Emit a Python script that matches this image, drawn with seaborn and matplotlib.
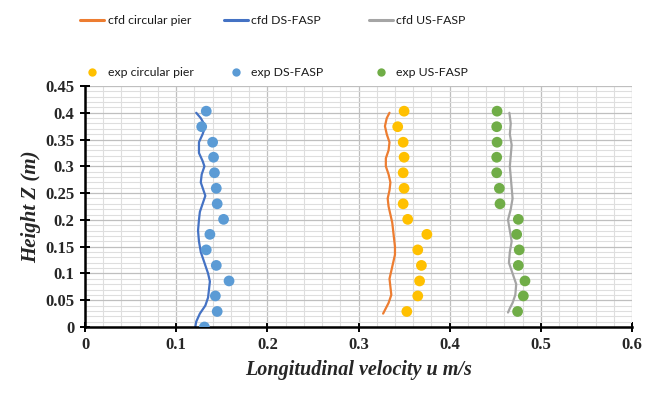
import numpy as np
import pandas as pd
import matplotlib
matplotlib.use("Agg")
import matplotlib.pyplot as plt
from matplotlib.ticker import MultipleLocator
from matplotlib.lines import Line2D
import seaborn as sns

# ---- measured (experimental) velocity profiles ----
z_exp_ds = [0.0, 0.029, 0.058, 0.086, 0.115, 0.144, 0.173, 0.201, 0.230, 0.259,
            0.288, 0.317, 0.345, 0.374, 0.403]
u_exp_ds = [0.131, 0.145, 0.143, 0.158, 0.144, 0.133, 0.137, 0.152, 0.145, 0.144,
            0.142, 0.141, 0.140, 0.128, 0.133]

z_exp = [0.029, 0.058, 0.086, 0.115, 0.144, 0.173, 0.201, 0.230, 0.259,
         0.288, 0.317, 0.345, 0.374, 0.403]
u_exp_circ = [0.353, 0.365, 0.367, 0.369, 0.365, 0.375, 0.354, 0.349, 0.350,
              0.349, 0.350, 0.349, 0.343, 0.350]
u_exp_us = [0.4745, 0.4808, 0.4826, 0.4753, 0.4763, 0.4735, 0.4753, 0.4552, 0.4545,
            0.4516, 0.4516, 0.4520, 0.4516, 0.4520]

# ---- CFD velocity profiles ----
z_cfd_ds = [0.0, 0.01, 0.025, 0.04, 0.055, 0.07, 0.085, 0.10, 0.12, 0.14, 0.16, 0.18,
            0.20, 0.215, 0.23, 0.245, 0.255, 0.27, 0.285, 0.30, 0.31, 0.325, 0.345,
            0.36, 0.375, 0.39, 0.40]
u_cfd_ds = [0.121, 0.122, 0.126, 0.132, 0.135, 0.136, 0.137, 0.135, 0.131, 0.127,
            0.125, 0.124, 0.125, 0.126, 0.129, 0.132, 0.130, 0.127, 0.128, 0.131,
            0.129, 0.125, 0.125, 0.129, 0.132, 0.127, 0.122]

z_cfd_circ = [0.025, 0.035, 0.045, 0.06, 0.075, 0.09, 0.105, 0.12, 0.135, 0.15, 0.165,
              0.18, 0.195, 0.21, 0.225, 0.24, 0.255, 0.27, 0.285, 0.30, 0.315, 0.33,
              0.345, 0.36, 0.375, 0.39, 0.40]
u_cfd_circ = [0.327, 0.330, 0.333, 0.336, 0.335, 0.334, 0.336, 0.338, 0.340, 0.340,
              0.339, 0.338, 0.337, 0.335, 0.333, 0.332, 0.334, 0.335, 0.333, 0.330,
              0.330, 0.333, 0.334, 0.331, 0.329, 0.331, 0.334]

z_cfd_us = [0.027, 0.035, 0.045, 0.06, 0.08, 0.10, 0.12, 0.14, 0.16, 0.18, 0.20, 0.22,
            0.24, 0.26, 0.28, 0.30, 0.32, 0.34, 0.36, 0.38, 0.40]
u_cfd_us = [0.464, 0.466, 0.469, 0.472, 0.473, 0.469, 0.465, 0.466, 0.468, 0.466,
            0.464, 0.467, 0.469, 0.468, 0.467, 0.466, 0.467, 0.468, 0.466, 0.467, 0.4655]

x_ticks = ["0", "0.1", "0.2", "0.3", "0.4", "0.5", "0.6"]
y_ticks = ["0", "0.05", "0.1", "0.15", "0.2", "0.25", "0.3", "0.35", "0.4", "0.45"]

labels_cfd = ["cfd circular pier", "cfd DS-FASP", "cfd US-FASP"]
labels_exp = ["exp circular pier", "exp DS-FASP", "exp US-FASP"]

c_line = ["#ED7D31", "#4472C4", "#A5A5A5"]
c_dot = ["#FFC000", "#5B9BD5", "#70AD47"]

sns.set_theme(style="white")

W, H = 664, 394
fig = plt.figure(figsize=(W / 100, H / 100), dpi=100)
ax = fig.add_axes([85 / W, 1 - 327 / H, 547 / W, 241 / H])

# grid
ax.xaxis.set_major_locator(MultipleLocator(0.1))
ax.xaxis.set_minor_locator(MultipleLocator(0.02))
ax.yaxis.set_major_locator(MultipleLocator(0.05))
ax.yaxis.set_minor_locator(MultipleLocator(0.01))
ax.grid(which="major", color="#BFBFBF", linewidth=0.9)
ax.grid(which="minor", color="#DEDEDE", linewidth=0.8)
ax.set_axisbelow(True)

cfd = [(u_cfd_circ, z_cfd_circ), (u_cfd_ds, z_cfd_ds), (u_cfd_us, z_cfd_us)]
for (u, z), col in zip(cfd, c_line):
    df = pd.DataFrame({"u": u, "z": z})
    sns.lineplot(data=df, x="u", y="z", sort=False, estimator=None, color=col,
                 linewidth=1.6, ax=ax)

exp = [(u_exp_circ, z_exp), (u_exp_ds, z_exp_ds), (u_exp_us, z_exp)]
for (u, z), col in zip(exp, c_dot):
    df = pd.DataFrame({"u": u, "z": z})
    sns.scatterplot(data=df, x="u", y="z", color=col, s=60, edgecolor="none",
                    ax=ax, zorder=4)

ax.set_xlim(0, 0.6)
ax.set_ylim(0, 0.45)
ax.set_xticks(np.arange(len(x_ticks)) * 0.1)
ax.set_xticklabels(x_ticks)
ax.set_yticks(np.arange(len(y_ticks)) * 0.05)
ax.set_yticklabels(y_ticks)

for s in ["top", "right"]:
    ax.spines[s].set_visible(False)
for s in ["left", "bottom"]:
    ax.spines[s].set_color("black")
    ax.spines[s].set_linewidth(1.8)
ax.tick_params(which="major", direction="inout", length=7, width=1.4,
               left=True, bottom=True, color="black", pad=4)
ax.tick_params(which="minor", length=0)
for lab in ax.get_xticklabels() + ax.get_yticklabels():
    lab.set_fontfamily("Liberation Serif")
    lab.set_fontweight("bold")
    lab.set_fontsize(12)

ax.set_xlabel("Longitudinal velocity u m/s", fontfamily="Liberation Serif",
              fontweight="bold", fontstyle="italic", fontsize=14.5, labelpad=5)
ax.set_ylabel("Height Z (m)", fontfamily="Liberation Serif",
              fontweight="bold", fontstyle="italic", fontsize=15, labelpad=3)

# legend entries: lines on the first row, markers on the second
col_x = [80, 224, 369]
row_y = [21, 73]
for i in range(3):
    h_line = Line2D([], [], color=c_line[i], linewidth=2.2)
    h_dot = Line2D([], [], linestyle="none", marker="o", markersize=6,
                   markerfacecolor=c_dot[i], markeredgecolor="none")
    for h, lab, y in [(h_line, labels_cfd[i], row_y[0]), (h_dot, labels_exp[i], row_y[1])]:
        leg = fig.legend([h], [lab], loc="center left",
                         bbox_to_anchor=(col_x[i] / W, 1 - y / H),
                         frameon=False, prop={"family": "Lato", "size": 8.8},
                         borderpad=0, borderaxespad=0, handlelength=2.0,
                         handletextpad=0.25)
        for t in leg.get_texts():
            t.set_color("#1a1a1a")

fig.savefig("out.png", dpi=100)
